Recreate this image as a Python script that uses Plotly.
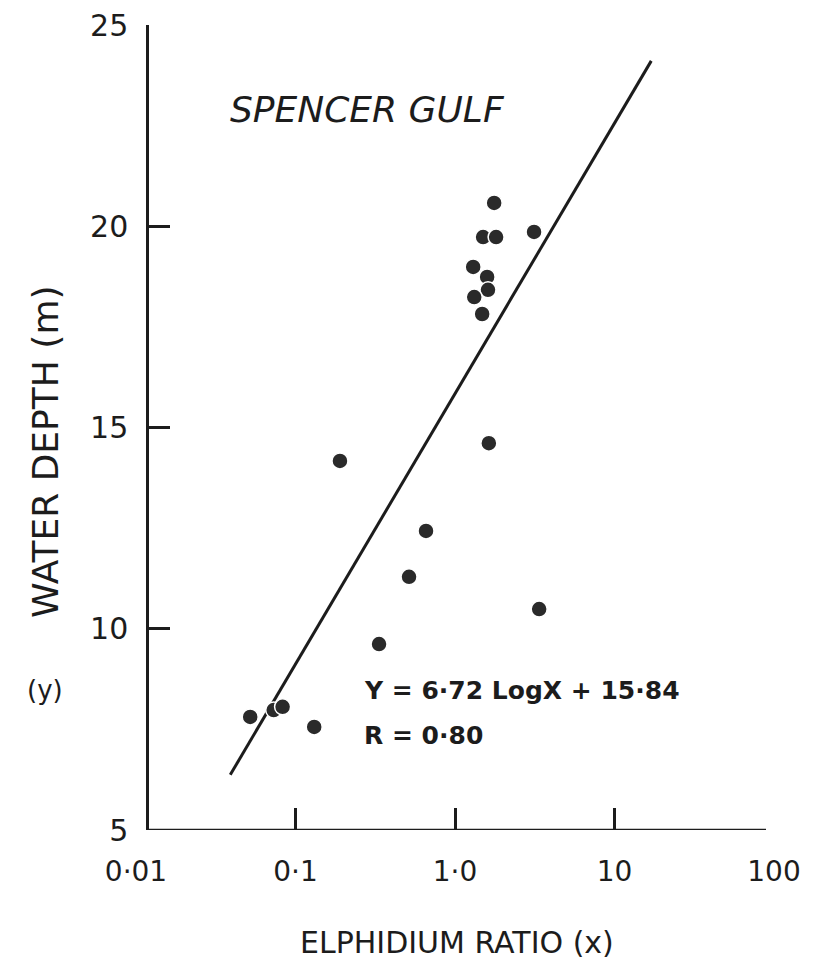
import numpy as np
import plotly.graph_objects as go

# Data
ratio_x = [0.052, 0.073, 0.083, 0.131, 0.19, 0.334, 0.515, 0.658, 1.63, 3.37,
           1.76, 3.13, 1.50, 1.81, 1.30, 1.59, 1.61, 1.32, 1.48]
depth_y = [7.81, 7.98, 8.06, 7.56, 14.17, 9.62, 11.29, 12.43, 14.61, 10.49,
           20.58, 19.86, 19.73, 19.73, 18.99, 18.74, 18.42, 18.24, 17.82]

slope = 6.72
intercept = 15.84
fit_x = [0.039, 17.0]
fit_y = [slope * np.log10(v) + intercept for v in fit_x]

x_tickvals = [0.01, 0.1, 1, 10, 100]
x_ticktext = ["0·01", "0·1", "1·0", "10", "100"]
y_tickvals = [5, 10, 15, 20, 25]
x_inner_ticks = [0.1, 1, 10]
y_inner_ticks = [10, 15, 20]

# page has an 8px body margin: figure sized to fill the rest of the 816x967 window
OFF = 8
W, H = 808, 959
T = 25 - OFF
B = H - (830 - OFF)
PH = H - T - B
def px(x):  # reference window pixel -> paper x
    return (x - OFF) / W
def py(y):  # reference window pixel -> paper y
    return (830 - y) / PH

FONT = "DejaVu Sans"
INK = "#1c1c1c"

fig = go.Figure()
fig.add_trace(go.Scatter(x=fit_x, y=fit_y, mode="lines",
                         line=dict(color=INK, width=3), showlegend=False))
fig.add_trace(go.Scatter(x=ratio_x, y=depth_y, mode="markers",
                         marker=dict(size=16, color="#2a2a2a",
                                     line=dict(color="white", width=1.5)),
                         showlegend=False))

fig.update_layout(
    width=W, height=H,
    margin=dict(l=0, r=0, t=T, b=B, autoexpand=False),
    paper_bgcolor="white", plot_bgcolor="white",
    font=dict(family=FONT, color=INK),
    xaxis=dict(type="log", range=[-2, 2], domain=[px(136), px(774)],
               tickvals=x_tickvals, ticktext=x_ticktext, ticks="",
               showgrid=False, zeroline=False, showline=False,
               tickfont=dict(size=28, family=FONT, color=INK),
               ticklabelstandoff=22, automargin=False,
               ticklabeloverflow="allow"),
    yaxis=dict(range=[5, 25], anchor="free", position=px(147),
               tickvals=y_tickvals, ticks="", showgrid=False, zeroline=False,
               showline=True, linecolor=INK, linewidth=2.5,
               tickfont=dict(size=30, family=FONT, color=INK),
               ticklabelstandoff=12, automargin=False,
               ticklabeloverflow="allow"),
    xaxis2=dict(type="log", range=[-2, 2], domain=[px(136), px(774)],
                overlaying="x", anchor="y", tickvals=x_inner_ticks,
                ticks="inside", ticklen=22, tickwidth=2.5, tickcolor=INK,
                showticklabels=False, showgrid=False, zeroline=False, side="bottom"),
    yaxis2=dict(range=[5, 25], overlaying="y", anchor="free", position=px(147),
                tickvals=y_inner_ticks, ticks="inside", ticklen=22, tickwidth=2.5,
                tickcolor=INK, showticklabels=False, showgrid=False, zeroline=False,
                side="left"),
)

# dummy trace to activate overlay axes
fig.add_trace(go.Scatter(x=[1], y=[10], xaxis="x2", yaxis="y2", mode="markers",
                         marker=dict(opacity=0), hoverinfo="skip", showlegend=False))

# x axis baseline
fig.add_shape(type="line", xref="paper", yref="y", x0=px(147), x1=px(766),
              y0=5, y1=5, line=dict(color=INK, width=2.5))

ann = [
    dict(text="<i>SPENCER GULF</i>", x=px(367), y=py(110), size=36),
    dict(text="WATER DEPTH (m)", x=px(45), y=py(452), size=36, textangle=-90),
    dict(text="(y)", x=px(45), y=py(690), size=26),
    dict(text="ELPHIDIUM RATIO (x)", x=px(457), y=py(943), size=30),
]
for a in ann:
    fig.add_annotation(text=a["text"], x=a["x"], y=a["y"], xref="paper", yref="paper",
                       showarrow=False, textangle=a.get("textangle", 0),
                       font=dict(size=a["size"], family=FONT, color=INK),
                       xanchor="center", yanchor="middle")

fig.add_annotation(text="<b>Y = 6·72 LogX + 15·84</b>", x=px(362), y=py(690),
                   xref="paper", yref="paper", showarrow=False,
                   xanchor="left", yanchor="middle",
                   font=dict(size=25, family=FONT, color=INK))
fig.add_annotation(text="<b>R = 0·80</b>", x=px(362), y=py(735),
                   xref="paper", yref="paper", showarrow=False,
                   xanchor="left", yanchor="middle",
                   font=dict(size=25, family=FONT, color=INK))

fig.write_html("out.html")
